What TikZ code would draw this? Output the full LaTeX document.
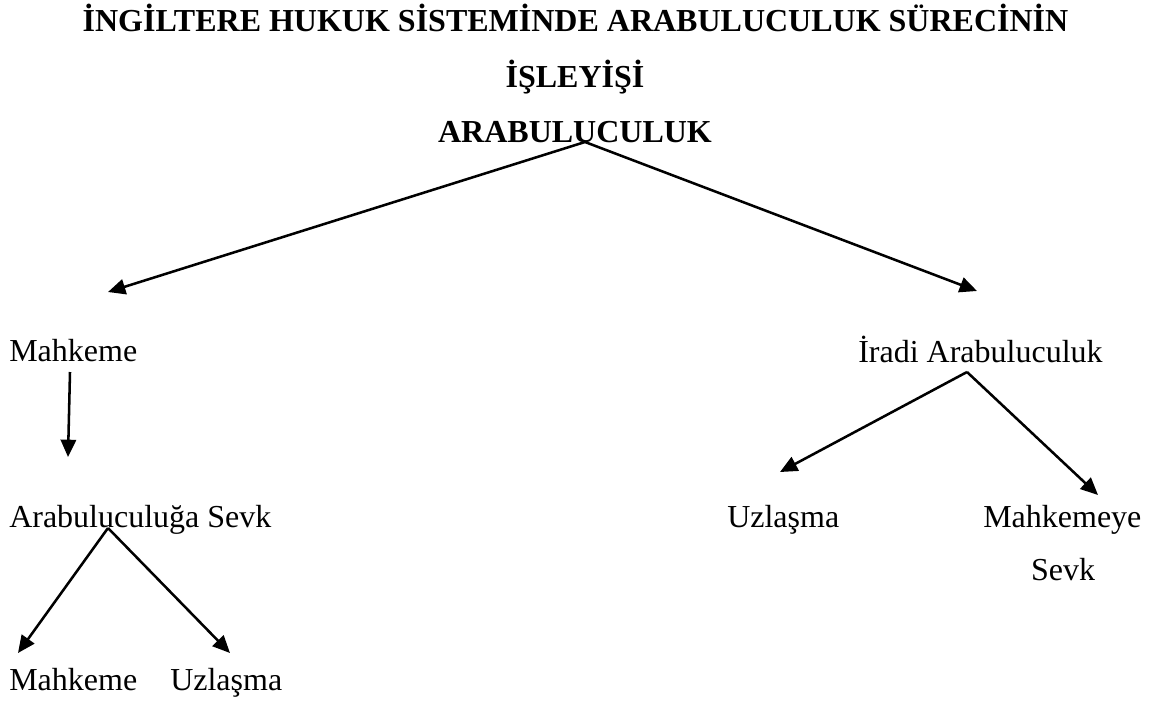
\documentclass[tikz,border=0pt]{standalone}
\usepackage{fontspec}
\setmainfont{Liberation Serif}
\usetikzlibrary{arrows.meta}
\begin{document}
\begin{tikzpicture}[x=0.75pt,y=-0.75pt,
  lbl/.style={inner sep=0pt,font=\fontsize{24}{28}\selectfont},
  ttl/.style={lbl,font=\fontsize{24}{28}\selectfont\bfseries},
  arr/.style={line width=1.9pt,-{Triangle[length=13pt,width=11.5pt]}}]
\useasboundingbox (0,0) rectangle (1152,701);
% title
\node[ttl,anchor=base] (t1) at (575.5,31) {İNGİLTERE HUKUK SİSTEMİNDE ARABULUCULUK SÜRECİNİN};
\node[ttl,anchor=base] (t2) at (575,87) {İŞLEYİŞİ};
\node[ttl,anchor=base] (root) at (575,142) {ARABULUCULUK};
% left branch
\node[lbl,anchor=base west] (mah) at (9,361) {Mahkeme};
\node[lbl,anchor=base west] (sevk) at (9,527) {Arabuluculuğa Sevk};
\node[lbl,anchor=base west] (mah2) at (9,690) {Mahkeme};
\node[lbl,anchor=base west] (uz2) at (170,690) {Uzlaşma};
% right branch
\node[lbl,anchor=base west] (ir) at (858,362) {İradi Arabuluculuk};
\node[lbl,anchor=base west] (uz) at (727,527) {Uzlaşma};
\node[lbl,anchor=base west] (msev) at (983,527) {Mahkemeye};
\node[lbl,anchor=base] (msev2) at (1063,580) {Sevk};
% arrow anchor points
\coordinate (root-f) at (585,142);
\coordinate (mah-t) at (108,292);
\coordinate (ir-t) at (977,291);
\coordinate (mah-f) at (70,372);
\coordinate (sevk-t) at (68,457);
\coordinate (sevk-f) at (108,528);
\coordinate (mah2-t) at (18,653);
\coordinate (uz2-t) at (230,653);
\coordinate (ir-f) at (967,372);
\coordinate (uz-t) at (780,472);
\coordinate (msev-t) at (1098,495);
% connectors
\draw[arr] (root-f) -- (mah-t);
\draw[arr] (root-f) -- (ir-t);
\draw[arr] (mah-f) -- (sevk-t);
\draw[arr] (sevk-f) -- (mah2-t);
\draw[arr] (sevk-f) -- (uz2-t);
\draw[arr] (ir-f) -- (uz-t);
\draw[arr] (ir-f) -- (msev-t);
\end{tikzpicture}
\end{document}
